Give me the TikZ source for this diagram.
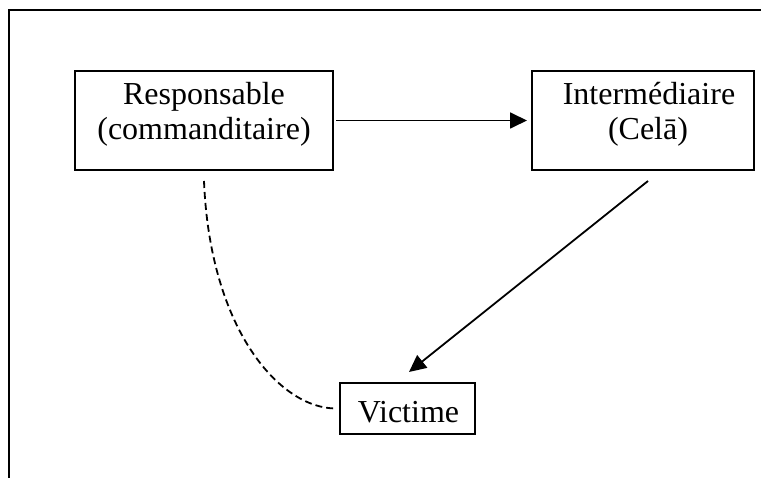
\documentclass[tikz,border=0pt]{standalone}
\usepackage{fontspec}
\setmainfont{Liberation Serif}
\usetikzlibrary{arrows.meta}
\begin{document}
\begin{tikzpicture}[x=1pt,y=-1pt,
  box/.style={draw, line width=2pt, inner sep=0pt},
  lbl/.style={anchor=base, inner sep=0pt, font=\fontsize{32}{36}\selectfont},
  arr/.style={line width=1.8pt, -{Triangle[length=17pt,width=16pt]}},
  link/.style={line width=1.8pt, dash pattern=on 7pt off 4pt}]
\useasboundingbox (0,0) rectangle (761,478);
% partial outer frame
\draw[line width=2.6pt] (9,478) -- (9,10) -- (762,10);
% boxes
\node[box, minimum width=258pt, minimum height=99pt] (resp) at (204,120.5) {};
\node[box, minimum width=222pt, minimum height=99pt] (inter) at (643,120.5) {};
\node[box, minimum width=135pt, minimum height=51pt] (vict) at (407.5,408.5) {};
% labels
\node[lbl] (respA) at (204,105) {Responsable};
\node[lbl] (respB) at (204,140) {(commanditaire)};
\node[lbl] (interA) at (649,105) {Intermédiaire};
\node[lbl] (interB) at (648,140) {(Celā)};
\node[lbl] (victA) at (408.5,423) {Victime};
% connectors
\draw[arr] ([xshift=2pt]resp.east) -- ([xshift=-4pt]inter.west);
\draw[arr] ([xshift=5pt,yshift=-10pt]inter.south) -- ([xshift=1.5pt,yshift=10pt]vict.north);
\draw[link] ([yshift=-10pt]resp.south) .. controls (210,330) and (280,408.5) .. ([xshift=-3pt]vict.west);
\end{tikzpicture}
\end{document}
